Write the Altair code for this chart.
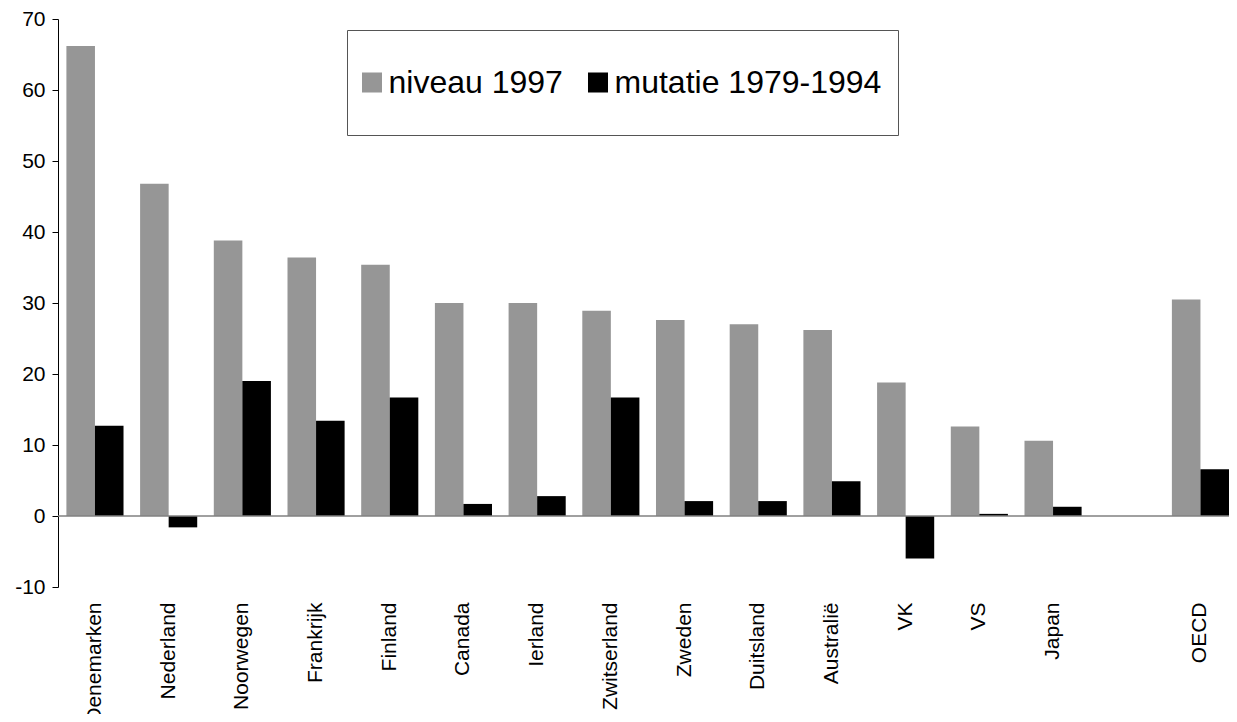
import altair as alt
import pandas as pd

countries = ["Denemarken", "Nederland", "Noorwegen", "Frankrijk", "Finland", "Canada",
             "Ierland", "Zwitserland", "Zweden", "Duitsland", "Australië", "VK", "VS",
             "Japan", "OECD"]
niveau_1997 = [66.2, 46.8, 38.8, 36.4, 35.4, 30.0, 30.0, 28.9, 27.6, 27.0, 26.2, 18.8, 12.6, 10.6, 30.5]
mutatie_1979_1994 = [12.7, -1.6, 19.0, 13.4, 16.7, 1.7, 2.8, 16.7, 2.1, 2.1, 4.9, -6.0, 0.3, 1.3, 6.6]
series = ["niveau 1997", "mutatie 1979-1994"]
colors = ["#969696", "#000000"]
y_ticks = [-10, 0, 10, 20, 30, 40, 50, 60, 70]

GAP = "_gap"
x_domain = countries[:-1] + [GAP] + countries[-1:]

rows = []
for c, a, b in zip(countries, niveau_1997, mutatie_1979_1994):
    rows.append({"land": c, "reeks": series[0], "waarde": a})
    rows.append({"land": c, "reeks": series[1], "waarde": b})
df = pd.DataFrame(rows)

FONT = "Liberation Sans"

# custom legend symbol: 20px square inside a tall slot (keeps the box tall)
sym_path = "M-0.274,-0.274H0.274V0.274H-0.274Z M0,-1L0,1"

bars = alt.Chart(df).mark_bar().encode(
    x=alt.X("land:N", scale=alt.Scale(domain=x_domain, paddingInner=0.225,
                                      paddingOuter=0.057, align=1),
            axis=alt.Axis(title=None, labelAngle=-90, domain=False, ticks=False,
                          labelPadding=15, labelFontSize=21, labelFont=FONT,
                          labelColor="black", labelExpr="datum.value == '_gap' ? '' : datum.value",
                          labelOverlap=False, labelLimit=0)),
    xOffset=alt.XOffset("reeks:N", scale=alt.Scale(domain=series, paddingInner=0, paddingOuter=0)),
    y=alt.Y("waarde:Q", scale=alt.Scale(domain=[-10, 70], nice=False, zero=False),
            axis=alt.Axis(title=None, values=y_ticks, grid=False, domainColor="black",
                          domainWidth=1, tickColor="black", tickSize=6, tickWidth=1,
                          labelFontSize=21, labelFont=FONT, labelColor="black",
                          labelPadding=7,
                          labelExpr="datum.value < 0 ? '-' + abs(datum.value) : '' + datum.value")),
    color=alt.Color("reeks:N", scale=alt.Scale(domain=series, range=colors),
                    legend=alt.Legend(title=None, orient="none", legendX=289, legendY=11,
                                      direction="horizontal", symbolType=sym_path,
                                      symbolSize=5329, symbolStrokeWidth=0,
                                      symbolOffset={"expr": "-27.5"},
                                      labelOffset={"expr": "-20"},
                                      columnPadding=24, labelFontSize=32, labelFont=FONT,
                                      labelColor="black", padding=16, fillColor="white",
                                      strokeColor="#555555", labelLimit=0)),
)

zero = alt.Chart(pd.DataFrame({"v": [0]})).mark_rule(color="#808080", strokeWidth=1.5).encode(
    y=alt.Y("v:Q")
)

chart = alt.layer(bars, zero).properties(
    width=1171, height=568,
    autosize=alt.AutoSizeParams(type="none"),
    padding={"left": 50, "top": 11, "right": 0, "bottom": 127},
).configure(background="white").configure_view(stroke=None)

chart.save("out.html", embed_options={"renderer": "svg", "actions": False})
